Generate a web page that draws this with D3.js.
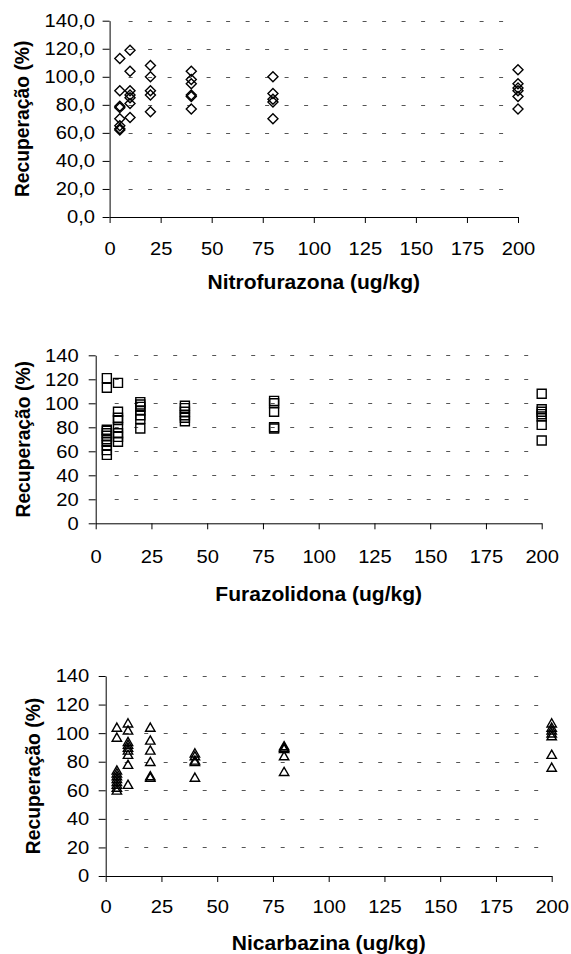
<!DOCTYPE html>
<html>
<head>
<meta charset="utf-8">
<script src="https://cdn.jsdelivr.net/npm/d3@7"></script>
<style>
  body { margin: 0; background: #fff; }
  svg text { font-family: "Liberation Sans", Arial, sans-serif; fill: #000; }
</style>
</head>
<body>
<div id="area1"></div>
<script>
// doses (ug/kg) where each group of recoveries was measured
var doses = [5, 10, 20, 40, 80, 200];
var xTicks = [0, 25, 50, 75, 100, 125, 150, 175, 200];
var yTicks = [0, 20, 40, 60, 80, 100, 120, 140];

// recoveries (%) per dose
var nitrofurazona = [
  [113, 90, 79, 78, 70, 65, 63, 62],
  [119, 104, 90, 87, 85, 81, 71],
  [108, 100, 90, 87, 75],
  [104, 98, 95, 87, 86, 77],
  [100, 88, 84, 82, 70],
  [105, 95, 92, 90, 86, 77]
];
var furazolidona = [
  [121, 113, 78, 77, 75, 73, 70, 68, 65, 61, 57],
  [117, 93, 88, 86, 80, 75, 72, 68],
  [101, 99, 97, 94, 90, 87, 79],
  [98, 96, 93, 90, 88, 85],
  [102, 100, 93, 80, 79],
  [108, 95, 93, 91, 89, 82, 69]
];
var nicarbazina = [
  [104, 97, 74, 72, 70, 68, 66, 64, 62, 60],
  [107, 102, 94, 92, 90, 88, 85, 78, 64],
  [104, 95, 88, 80, 70, 69],
  [86, 84, 81, 80, 69],
  [91, 90, 89, 84, 73],
  [107, 104, 102, 100, 98, 85, 76]
];

var xTitles = ["Nitrofurazona (ug/kg)", "Furazolidona (ug/kg)", "Nicarbazina (ug/kg)"];
var yTitle = "Recuperação (%)";

// the source picture is a bit wider than tall, so horizontal text is stretched
var stretch = 1.09;

// panel layout in page pixels
var panels = [
  { data: nitrofurazona, shape: "diamond", left: 109.6, right: 518, top: 20.7, bottom: 217,
    decimals: true, labelGap: 14.6, yTitleX: 28.5, tickBase: 38, titleBase: 72 },
  { data: furazolidona, shape: "square", left: 95.7, right: 541.7, top: 355.3, bottom: 523.3,
    decimals: false, labelGap: 17, yTitleX: 30, tickBase: 40, titleBase: 78 },
  { data: nicarbazina, shape: "triangle", left: 105.7, right: 551.7, top: 676, bottom: 876,
    decimals: false, labelGap: 16.4, yTitleX: 40, tickBase: 37, titleBase: 74 }
];

var svg = d3.select("#area1")
  .append("svg")
  .attr("width", 571)
  .attr("height", 954);

function shapePath(shape) {
  if (shape === "diamond") return "M0,-5L5,0L0,5L-5,0Z";
  if (shape === "square") return "M-4.5,-4.5H4.5V4.5H-4.5Z";
  return "M0,-4.4L4.7,3.8H-4.7Z";
}

panels.forEach(function(p, i) {
  var x = d3.scaleLinear().domain([0, 200]).range([p.left, p.right]);
  var y = d3.scaleLinear().domain([0, 140]).range([p.bottom, p.top]);
  var g = svg.append("g");

  // dashed horizontal gridlines, snapped to whole pixels so they stay crisp
  g.selectAll(".grid")
    .data(yTicks.filter(function(v) { return v > 0; }))
    .enter().append("line")
    .attr("x1", p.left + 19)
    .attr("x2", x(200) - 8)
    .attr("y1", function(d) { return Math.round(y(d)) + 0.5; })
    .attr("y2", function(d) { return Math.round(y(d)) + 0.5; })
    .attr("stroke", "#555")
    .attr("stroke-width", 1)
    .attr("stroke-dasharray", "4,15.5");

  var fmt = p.decimals
    ? function(d) { return d3.format(".1f")(d).replace(".", ","); }
    : d3.format("d");

  var yAxis = g.append("g")
    .attr("transform", "translate(" + p.left + ",0)")
    .call(d3.axisLeft(y).tickValues(yTicks).tickSize(7).tickSizeOuter(0).tickFormat(fmt));

  var xAxis = g.append("g")
    .attr("transform", "translate(0," + p.bottom + ")")
    .call(d3.axisBottom(x).tickValues(xTicks).tickSize(6).tickSizeOuter(0));

  [yAxis, xAxis].forEach(function(a) {
    a.select(".domain").attr("stroke", "#000");
    a.selectAll(".tick line").attr("stroke", "#000");
    a.selectAll("text").attr("font-size", 18.5).attr("fill", "#000")
      .style("font-family", "'Liberation Sans', Arial, sans-serif");
  });
  xAxis.selectAll("text")
    .attr("y", p.tickBase).attr("dy", null)
    .attr("transform", "scale(" + stretch + ",1)");
  yAxis.selectAll("text")
    .attr("x", -p.labelGap / stretch)
    .attr("transform", "scale(" + stretch + ",1)");

  // points
  var pts = [];
  p.data.forEach(function(vals, k) {
    vals.forEach(function(v) { pts.push({ dose: doses[k], value: v }); });
  });
  g.selectAll(".pt")
    .data(pts)
    .enter().append("path")
    .attr("class", "pt")
    .attr("d", shapePath(p.shape))
    .attr("transform", function(d) { return "translate(" + x(d.dose) + "," + y(d.value) + ")"; })
    .attr("fill", "none")
    .attr("stroke", "#000")
    .attr("stroke-width", 1.4);

  // titles
  g.append("text")
    .attr("transform", "translate(" + (p.left + p.right) / 2 + "," + (p.bottom + p.titleBase) + ") scale(" + stretch + ",1)")
    .attr("text-anchor", "middle")
    .attr("font-size", 19.3)
    .attr("font-weight", "bold")
    .text(xTitles[i]);

  g.append("text")
    .attr("transform", "translate(" + p.yTitleX + "," + (p.top + p.bottom) / 2 + ") rotate(-90) scale(1," + stretch + ")")
    .attr("text-anchor", "middle")
    .attr("font-size", 19.3)
    .attr("font-weight", "bold")
    .text(yTitle);
});
</script>
</body>
</html>
